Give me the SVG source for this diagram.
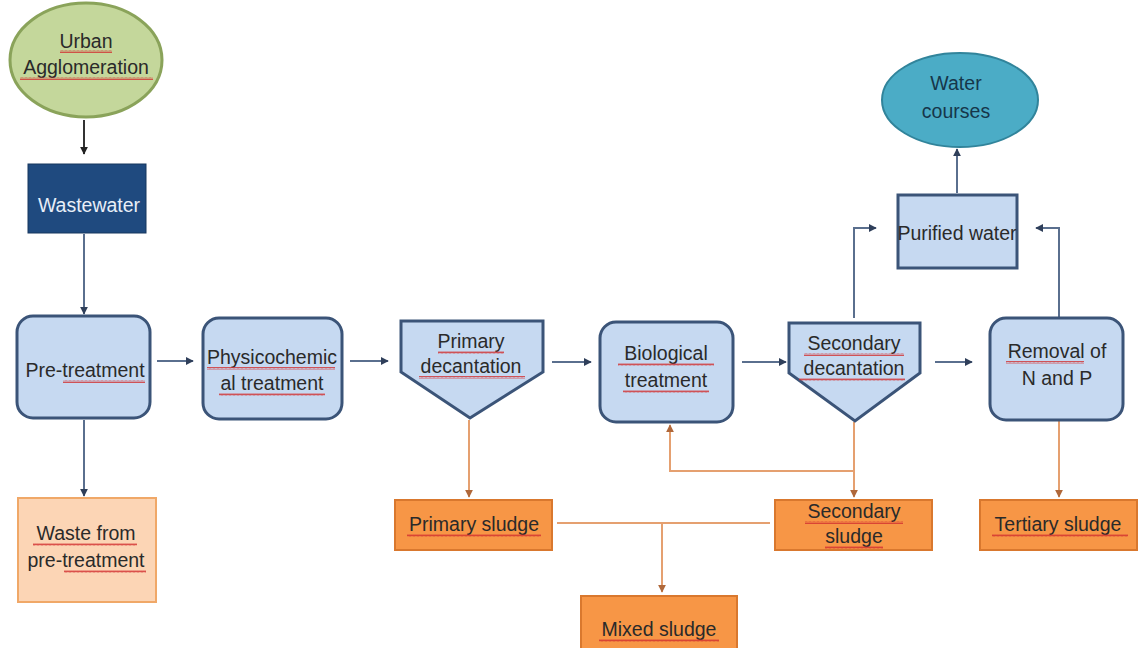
<svg xmlns="http://www.w3.org/2000/svg" width="1144" height="648" viewBox="0 0 1144 648">
<style>
text{font-family:"Liberation Sans",Arial,sans-serif;font-size:19.5px;fill:#2a2a2a;text-anchor:middle}
.box{fill:#c6d9f1;stroke:#3b5478;stroke-width:3}
.org{fill:#f79646;stroke:#d9782e;stroke-width:2}
.lo{fill:#fcd5b5;stroke:#f0a868;stroke-width:2}
.cb{fill:none;stroke:#5a6f8e;stroke-width:2}
.co{fill:none;stroke:#e5a070;stroke-width:2}
.wv{fill:url(#wavy)}
</style>
<defs>
<marker id="ab" viewBox="0 0 10 10" refX="9" refY="5" markerWidth="4" markerHeight="4" orient="auto"><path d="M0,0L10,5L0,10z" fill="#2f3f5a"/></marker>
<marker id="ak" viewBox="0 0 10 10" refX="9" refY="5" markerWidth="4" markerHeight="4" orient="auto"><path d="M0,0L10,5L0,10z" fill="#222"/></marker>
<marker id="ao" viewBox="0 0 10 10" refX="9" refY="5" markerWidth="4" markerHeight="4" orient="auto"><path d="M0,0L10,5L0,10z" fill="#b0683a"/></marker>
<pattern id="wavy" width="4" height="3" patternUnits="userSpaceOnUse"><path d="M0,2.5L1,0.5L2,2.5L3,0.5L4,2.5" fill="none" stroke="#d23030" stroke-width="0.8"/></pattern>
</defs>
<rect width="1144" height="648" fill="#fff"/>
<g id="connectors">
<path class="cb" d="M84,120V154" style="stroke:#333" marker-end="url(#ak)"/>
<path class="cb" d="M84,234V314" marker-end="url(#ab)"/>
<path class="cb" d="M84,420V496" marker-end="url(#ab)"/>
<path class="cb" d="M157,361H193" marker-end="url(#ab)"/>
<path class="cb" d="M350,361H388" marker-end="url(#ab)"/>
<path class="cb" d="M552,362H591" marker-end="url(#ab)"/>
<path class="cb" d="M742,362H786" marker-end="url(#ab)"/>
<path class="cb" d="M935,362H972" marker-end="url(#ab)"/>
<path class="cb" d="M854,318V228H876" marker-end="url(#ab)"/>
<path class="cb" d="M1059,318V228H1036" marker-end="url(#ab)"/>
<path class="cb" d="M957,193V149" marker-end="url(#ab)"/>
<path class="co" d="M469,420V497" marker-end="url(#ao)"/>
<path class="co" d="M854,422V497" marker-end="url(#ao)"/>
<path class="co" d="M854,471H670V425" marker-end="url(#ao)"/>
<path class="co" d="M1059,421V497" marker-end="url(#ao)"/>
<path class="co" d="M557,523H770"/>
<path class="co" d="M662,523V592" marker-end="url(#ao)"/>
</g>
<g id="urban">
<ellipse cx="86" cy="60" rx="76" ry="57" fill="#c4d79b" stroke="#8aa35a" stroke-width="3"/>
<text x="86" y="48">Urban</text>
<text x="86" y="74">Agglomeration</text>
<rect class="wv" x="60" y="50" width="52" height="3"/>
<rect class="wv" x="20" y="77" width="133" height="3"/>
</g>
<g id="wastewater">
<rect x="28" y="164" width="118" height="69" fill="#1f4a7f" stroke="#17375e" stroke-width="1"/>
<text x="89" y="212" style="fill:#e8eef8">Wastewater</text>
</g>
<g id="pretreatment">
<rect class="box" x="17" y="316" width="133" height="102" rx="16"/>
<text x="85" y="377">Pre-treatment</text>
<rect class="wv" x="63" y="380" width="82" height="3"/>
</g>
<g id="physicochemical">
<rect class="box" x="203" y="318" width="139" height="101" rx="16"/>
<text x="272" y="364">Physicochemic</text>
<text x="272" y="390">al treatment</text>
<rect class="wv" x="207" y="367" width="128" height="3"/>
<rect class="wv" x="219" y="393" width="106" height="3"/>
</g>
<g id="primary-decantation">
<path class="box" d="M401,321H543V372L470,418L401,372Z"/>
<text x="471" y="348">Primary</text>
<text x="471" y="373">decantation</text>
<rect class="wv" x="438" y="351" width="66" height="3"/>
<rect class="wv" x="419" y="376" width="106" height="3"/>
</g>
<g id="biological">
<rect class="box" x="600" y="322" width="133" height="100" rx="16"/>
<text x="666" y="360">Biological</text>
<text x="666" y="387">treatment</text>
<rect class="wv" x="618" y="363" width="96" height="3"/>
<rect class="wv" x="623" y="390" width="86" height="3"/>
</g>
<g id="secondary-decantation">
<path class="box" d="M789,323H920V373L855,421L789,373Z"/>
<text x="854" y="350">Secondary</text>
<text x="854" y="375">decantation</text>
<rect class="wv" x="804" y="353" width="100" height="3"/>
<rect class="wv" x="799" y="378" width="106" height="3"/>
</g>
<g id="removal">
<rect class="box" x="990" y="318" width="133" height="102" rx="16"/>
<text x="1057" y="358">Removal of</text>
<text x="1057" y="385">N and P</text>
<rect class="wv" x="1006" y="361" width="78" height="3"/>
</g>
<g id="purified">
<rect class="box" x="898" y="195" width="119" height="73" rx="0"/>
<text x="957" y="240">Purified water</text>
</g>
<g id="watercourses">
<ellipse cx="960" cy="100" rx="78" ry="47" fill="#4bacc6" stroke="#31849b" stroke-width="2"/>
<text x="956" y="90" style="fill:#16364a">Water</text>
<text x="956" y="118" style="fill:#16364a">courses</text>
</g>
<g id="waste-pretreatment">
<rect class="lo" x="18" y="498" width="138" height="104"/>
<text x="86" y="540">Waste from</text>
<text x="86" y="567">pre-treatment</text>
<rect class="wv" x="33" y="543" width="104" height="3"/>
<rect class="wv" x="64" y="570" width="82" height="3"/>
</g>
<g id="primary-sludge">
<rect class="org" x="395" y="500" width="157" height="50"/>
<text x="474" y="531">Primary sludge</text>
<rect class="wv" x="407" y="534" width="134" height="3"/>
</g>
<g id="secondary-sludge">
<rect class="org" x="775" y="500" width="157" height="50"/>
<text x="854" y="518">Secondary</text>
<text x="854" y="543">sludge</text>
<rect class="wv" x="805" y="521" width="98" height="3"/>
<rect class="wv" x="825" y="546" width="58" height="3"/>
</g>
<g id="tertiary-sludge">
<rect class="org" x="980" y="500" width="157" height="50"/>
<text x="1058" y="531">Tertiary sludge</text>
<rect class="wv" x="992" y="534" width="136" height="3"/>
</g>
<g id="mixed-sludge">
<rect class="org" x="581" y="596" width="156" height="56"/>
<text x="659" y="636">Mixed sludge</text>
<rect class="wv" x="599" y="639" width="120" height="3"/>
</g>
</svg>
